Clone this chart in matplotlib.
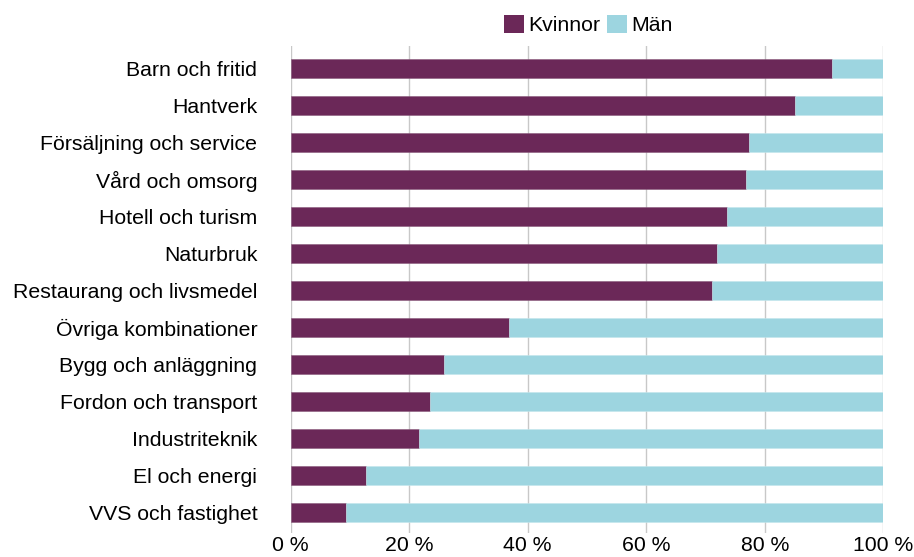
import matplotlib
matplotlib.use("Agg")
import matplotlib.pyplot as plt
from matplotlib.patches import Patch

plt.rcParams['font.family'] = ['Liberation Sans', 'DejaVu Sans']

categories = ["Barn och fritid", "Hantverk", "Försäljning och service", "Vård och omsorg",
              "Hotell och turism", "Naturbruk", "Restaurang och livsmedel",
              "Övriga kombinationer", "Bygg och anläggning", "Fordon och transport",
              "Industriteknik", "El och energi", "VVS och fastighet"]
kvinnor = [91.3, 85.1, 77.3, 76.9, 73.7, 72.0, 71.1, 36.8, 25.8, 23.5, 21.7, 12.7, 9.4]
man = [100 - k for k in kvinnor]
xticks = [0, 20, 40, 60, 80, 100]
xticklabels = ["0 %", "20 %", "40 %", "60 %", "80 %", "100 %"]

c_k = "#6B2858"
c_m = "#9DD5E0"
fs = 15.3

fig = plt.figure(figsize=(9.14, 5.57), dpi=100)
ax = fig.add_axes([290.7/914, 1 - 533/557, (883.3-290.7)/914, (533-46)/557])

y = list(range(len(categories)))
ax.barh(y, kvinnor, height=0.52, color=c_k, edgecolor="#8a5a7c", linewidth=0.4, zorder=3)
ax.barh(y, man, left=kvinnor, height=0.52, color=c_m, edgecolor="#c4e6ec", linewidth=0.4, zorder=3)

ax.set_xlim(0, 100)
ax.set_ylim(len(categories) - 0.45, -0.6)
ax.set_yticks(y)
ax.set_yticklabels(categories, fontsize=fs)
ax.set_xticks(xticks)
ax.set_xticklabels(xticklabels, fontsize=fs)
ax.tick_params(axis='y', length=0, pad=24)
ax.tick_params(axis='x', length=0, pad=2)
ax.grid(axis='x', color="#C8C8C8", linewidth=1, zorder=0)
for s in ax.spines.values():
    s.set_visible(False)

handles = [Patch(facecolor=c_k, label="Kvinnor"), Patch(facecolor=c_m, label="Män")]
fig.legend(handles=handles, loc='center', bbox_to_anchor=(588/914, 1 - 25/557), ncol=2,
           frameon=False, fontsize=fs, handlelength=0.95, handleheight=0.95,
           handletextpad=0.2, columnspacing=0.3, borderpad=0.1)

fig.savefig("out.png", dpi=100)
